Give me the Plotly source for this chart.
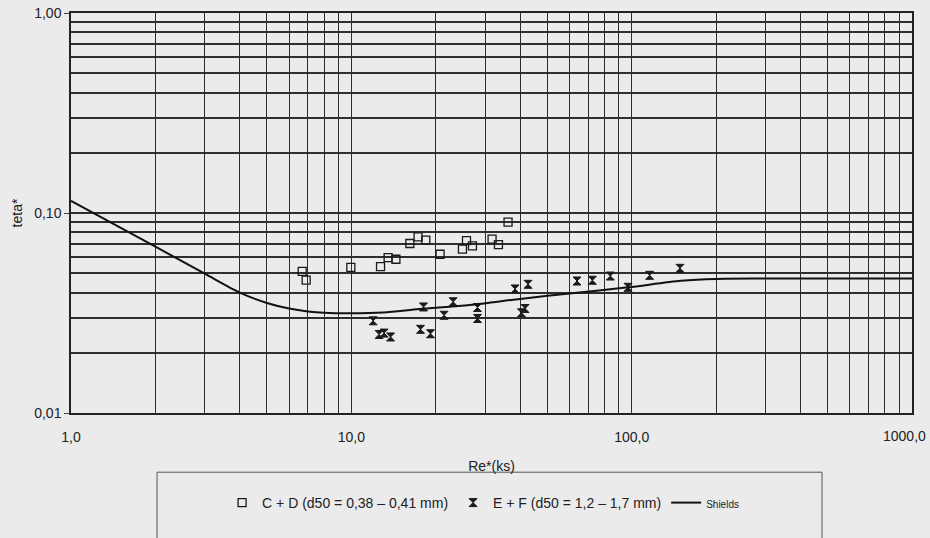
import plotly.graph_objects as go

# C + D (d50 = 0,38 - 0,41 mm)
cd_re = [6.68, 6.90, 9.96, 12.71, 13.53, 14.42, 16.17, 17.30, 18.43, 20.73,
         24.91, 25.75, 27.04, 31.77, 33.48, 36.23]
cd_teta = [0.0511, 0.0462, 0.0535, 0.0539, 0.0598, 0.0587, 0.0704, 0.0760, 0.0732, 0.0622,
           0.0659, 0.0728, 0.0685, 0.0740, 0.0695, 0.0901]

# E + F (d50 = 1,2 - 1,7 mm)
ef_re = [11.96, 12.56, 13.09, 13.80, 18.09, 17.65, 19.16, 21.42, 23.07, 28.18, 28.18,
         38.37, 42.69, 40.45, 41.66, 63.83, 72.42, 83.95, 97.03, 115.9, 148.7]
ef_teta = [0.0289, 0.0247, 0.0251, 0.0240, 0.0339, 0.0262, 0.0249, 0.0308, 0.0360, 0.0337, 0.0297,
           0.0417, 0.0440, 0.0317, 0.0333, 0.0457, 0.0461, 0.0484, 0.0425, 0.0488, 0.0529]

# Shields curve
sh_re = [1, 2, 3, 4, 5, 6, 7, 8, 10, 13, 17.5, 26.5, 40, 60, 97, 150, 200, 300, 1000]
sh_teta = [0.115, 0.0679, 0.0497, 0.0400, 0.0355, 0.0333, 0.0322, 0.0317, 0.0315, 0.0318,
           0.0331, 0.0347, 0.0372, 0.0396, 0.0425, 0.0458, 0.0468, 0.0470, 0.0470]

x_ticks = [1, 10, 100]
x_labels = ["1,0", "10,0", "100,0"]
x_last_label = "1000,0"
y_ticks = [0.01, 0.1, 1]
y_labels = ["0,01", "0,10", "1,00"]

BG = "#ebebec"
GRID = "#2e2e2e"
FONT = "Liberation Sans, Arial, sans-serif"

fig = go.Figure()
fig.add_trace(go.Scatter(
    x=cd_re, y=cd_teta, mode="markers", name="C + D (d50 = 0,38 – 0,41 mm)",
    marker=dict(symbol="square-open", size=8, color="#1a1a1a", line=dict(width=1.3, color="#1a1a1a"))))
fig.add_trace(go.Scatter(
    x=ef_re, y=ef_teta, mode="markers", name="E + F (d50 = 1,2 – 1,7 mm)",
    marker=dict(symbol="hourglass", size=8, color="#1a1a1a", line=dict(width=1, color="#1a1a1a"))))
fig.add_trace(go.Scatter(
    x=sh_re, y=sh_teta, mode="lines", name="<span style='font-size:10px'>Shields</span>",
    line=dict(color="#111", width=2, shape="spline", smoothing=0.8)))

minor_x = [m * 10 ** d for d in range(0, 3) for m in range(2, 10)]
minor_y = [m * 10 ** d for d in range(-2, 0) for m in range(2, 10)]

fig.update_xaxes(
    type="log", range=[0, 3], tickmode="array", tickvals=x_ticks, ticktext=x_labels,
    showgrid=True, gridcolor=GRID, gridwidth=1.2, automargin=False,
    minor=dict(tickmode="array", tickvals=minor_x, showgrid=True, gridcolor=GRID, gridwidth=1.2, ticks=""),
    showline=True, linecolor="#222", linewidth=1.5, mirror=True,
    ticks="outside", ticklen=10, tickcolor=BG,
    zeroline=False, tickfont=dict(size=14, color="#222"), ticklabeloverflow="allow",
    title=dict(text="Re*(ks)", font=dict(size=14, color="#222"), standoff=18))
fig.update_yaxes(
    type="log", range=[-2, 0], tickmode="array", tickvals=y_ticks, ticktext=y_labels,
    showgrid=True, gridcolor=GRID, gridwidth=1.5, automargin=False,
    minor=dict(tickmode="array", tickvals=minor_y, showgrid=True, gridcolor=GRID, gridwidth=1.5, ticks=""),
    showline=True, linecolor="#222", linewidth=1.5, mirror=True, ticks="outside", ticklen=5,
    tickcolor="#444", zeroline=False, tickfont=dict(size=14, color="#222"),
    title=dict(text="teta*", font=dict(size=14, color="#222"), standoff=8))

# last x tick label, shifted left so it stays inside the page
fig.add_annotation(x=3, xref="x", y=0, yref="paper", yanchor="top", xanchor="right",
                   text=x_last_label, showarrow=False, xshift=16, yshift=-13,
                   font=dict(size=14, color="#222"))

fig.add_shape(type="rect", xref="paper", yref="paper", x0=0.1023, x1=0.893, y0=-0.148, y1=-0.40,
              line=dict(color="#555", width=1), fillcolor="rgba(0,0,0,0)", layer="above")

fig.update_layout(
    width=930, height=538,
    margin=dict(l=71, r=18, t=13, b=125, autoexpand=False),
    paper_bgcolor=BG, plot_bgcolor=BG,
    font=dict(family=FONT, size=14, color="#222"),
    showlegend=True,
    legend=dict(orientation="h", x=0.49, xanchor="center", y=-0.185, yanchor="top",
                bgcolor="rgba(0,0,0,0)", font=dict(size=14, color="#222"),
                itemwidth=30, traceorder="normal"),
)

fig.write_html("out.html", config={"displayModeBar": False},
               post_script="document.body.style.margin='0';document.body.style.background='#ebebec';")
